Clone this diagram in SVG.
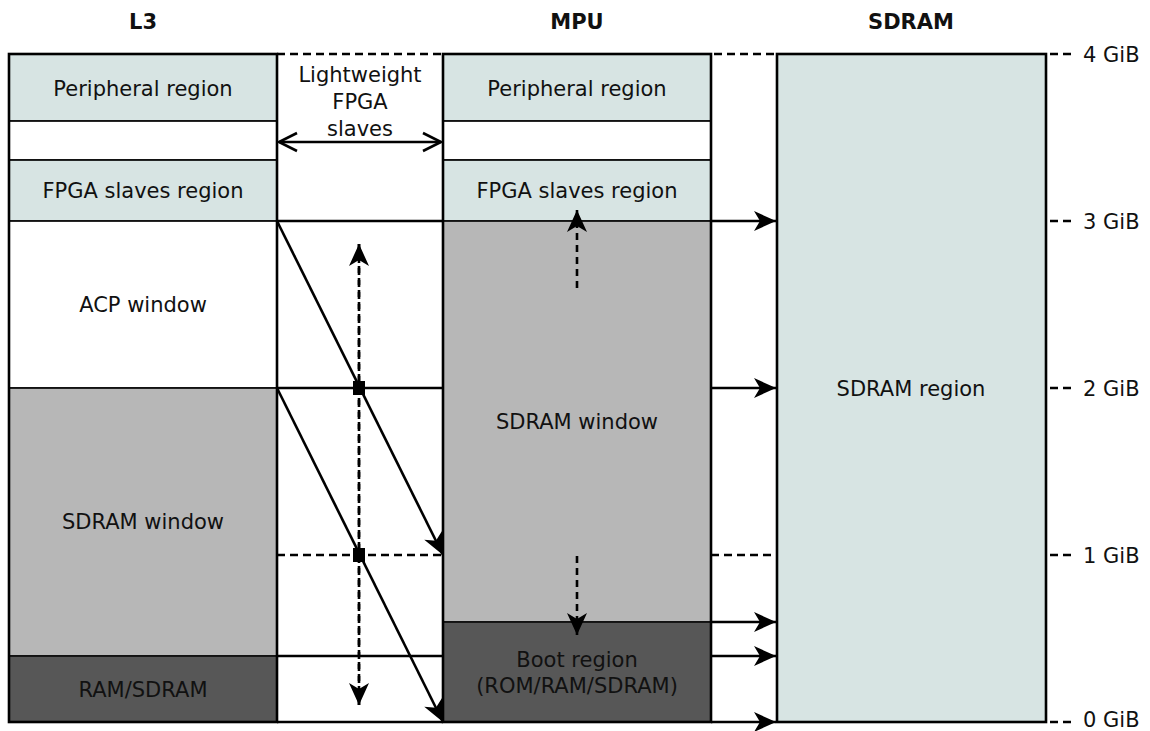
<svg xmlns="http://www.w3.org/2000/svg" width="1150" height="731" viewBox="0 0 1150 731">
<style>
text{font-family:"DejaVu Sans","Liberation Sans",sans-serif;font-size:21px;fill:#111;text-anchor:middle}
.h{font-weight:bold;font-size:21px}
.t{text-anchor:start}
.lt{fill:#d7e4e3}
.g{fill:#b7b7b7}
.d{fill:#575757}
.w{fill:#fff}
.r{stroke:#111;stroke-width:1.8}
.ln{stroke:#000;stroke-width:2.6;fill:none}
.ds{stroke:#000;stroke-width:2.6;fill:none;stroke-dasharray:8,5}
.dv{stroke:#000;stroke-width:2.6;fill:none;stroke-dasharray:7,5}
.bx{fill:none;stroke:#000;stroke-width:2.6}
</style>
<defs>
<marker id="ah" markerUnits="userSpaceOnUse" viewBox="-24 -12 26 24" refX="0" refY="0" markerWidth="26" markerHeight="24" orient="auto" overflow="visible">
<path d="M0,0 L-22,-10 L-16,0 L-22,10 Z" fill="#000"/>
</marker>
<marker id="op" markerUnits="userSpaceOnUse" viewBox="-20 -12 22 24" refX="0" refY="0" markerWidth="22" markerHeight="24" orient="auto-start-reverse" overflow="visible">
<path d="M-18,-9 L0,0 L-18,9" fill="none" stroke="#000" stroke-width="2.6"/>
</marker>
</defs>

<g id="headers">
<text class="h" x="143" y="29">L3</text>
<text class="h" x="577" y="29">MPU</text>
<text class="h" x="911" y="29">SDRAM</text>
</g>

<g id="l3">
<rect class="lt r" x="9" y="54" width="268" height="67"/>
<rect class="w r" x="9" y="121" width="268" height="39"/>
<rect class="lt r" x="9" y="160" width="268" height="61"/>
<rect class="w r" x="9" y="221" width="268" height="167"/>
<rect class="g r" x="9" y="388" width="268" height="268"/>
<rect class="d r" x="9" y="656" width="268" height="66"/>
<rect class="bx" x="9" y="54" width="268" height="668"/>
<text x="143" y="96">Peripheral region</text>
<text x="143" y="198">FPGA slaves region</text>
<text x="143" y="312">ACP window</text>
<text x="143" y="529">SDRAM window</text>
<text x="143" y="697">RAM/SDRAM</text>
</g>

<g id="mpu">
<rect class="lt r" x="443" y="54" width="268" height="67"/>
<rect class="w r" x="443" y="121" width="268" height="39"/>
<rect class="lt r" x="443" y="160" width="268" height="61"/>
<rect class="g r" x="443" y="221" width="268" height="401"/>
<rect class="d r" x="443" y="622" width="268" height="100"/>
<rect class="bx" x="443" y="54" width="268" height="668"/>
<text x="577" y="96">Peripheral region</text>
<text x="577" y="198">FPGA slaves region</text>
<text x="577" y="429">SDRAM window</text>
<text x="577" y="667">Boot region</text>
<text x="577" y="693">(ROM/RAM/SDRAM)</text>
</g>

<g id="sdram">
<rect class="lt" x="777" y="54" width="269" height="668" stroke="#000" stroke-width="2.6"/>
<text x="911" y="396">SDRAM region</text>
</g>

<g id="lw">
<text x="360" y="82">Lightweight</text>
<text x="360" y="109">FPGA</text>
<text x="360" y="136">slaves</text>
</g>

<g id="scale">
<line class="ds" x1="1050" y1="54" x2="1074" y2="54" stroke-dasharray="7,5"/>
<line class="ds" x1="1050" y1="221" x2="1074" y2="221" stroke-dasharray="7,5"/>
<line class="ds" x1="1050" y1="388" x2="1074" y2="388" stroke-dasharray="7,5"/>
<line class="ds" x1="1050" y1="555" x2="1074" y2="555" stroke-dasharray="7,5"/>
<line class="ds" x1="1050" y1="722" x2="1074" y2="722" stroke-dasharray="7,5"/>
<text class="t" x="1083" y="62">4 GiB</text>
<text class="t" x="1083" y="229">3 GiB</text>
<text class="t" x="1083" y="396">2 GiB</text>
<text class="t" x="1083" y="563">1 GiB</text>
<text class="t" x="1083" y="727">0 GiB</text>
</g>

<g id="connectors">
<line class="ds" x1="277" y1="54" x2="443" y2="54"/>
<line class="ds" x1="714" y1="54" x2="777" y2="54"/>
<line class="ln" x1="279" y1="142" x2="441" y2="142" marker-start="url(#op)" marker-end="url(#op)"/>
<line class="ln" x1="277" y1="221" x2="443" y2="221"/>
<line class="ln" x1="277" y1="388" x2="443" y2="388"/>
<line class="ds" x1="277" y1="555" x2="443" y2="555"/>
<line class="ln" x1="277" y1="656" x2="443" y2="656"/>
<line class="ln" x1="277" y1="722" x2="443" y2="722"/>
<line class="ln" x1="277" y1="221" x2="443" y2="555" marker-end="url(#ah)"/>
<line class="ln" x1="277" y1="388" x2="443" y2="722" marker-end="url(#ah)"/>
<line class="dv" x1="359" y1="705" x2="359" y2="244" marker-end="url(#ah)"/>
<line class="dv" x1="359" y1="244" x2="359" y2="705" marker-end="url(#ah)"/>
<rect x="353" y="381" width="12" height="14" fill="#000"/>
<rect x="353" y="548" width="12" height="14" fill="#000"/>
<line class="dv" x1="577" y1="288" x2="577" y2="210" marker-end="url(#ah)"/>
<line class="dv" x1="577" y1="556" x2="577" y2="635" marker-end="url(#ah)"/>
<line class="ln" x1="711" y1="221" x2="776" y2="221" marker-end="url(#ah)"/>
<line class="ln" x1="711" y1="388" x2="776" y2="388" marker-end="url(#ah)"/>
<line class="ds" x1="711" y1="555" x2="777" y2="555"/>
<line class="ln" x1="711" y1="622" x2="776" y2="622" marker-end="url(#ah)"/>
<line class="ln" x1="711" y1="656" x2="776" y2="656" marker-end="url(#ah)"/>
<line class="ln" x1="711" y1="722" x2="776" y2="722" marker-end="url(#ah)"/>
</g>
</svg>
